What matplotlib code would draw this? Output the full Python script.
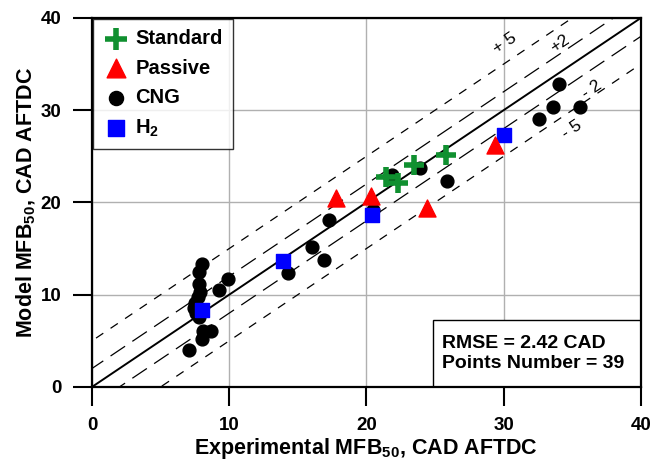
import numpy as np
import matplotlib
matplotlib.use('Agg')
import matplotlib.pyplot as plt
from matplotlib.patches import Rectangle

plt.rcParams['font.family'] = ['Liberation Sans', 'DejaVu Sans']
plt.rcParams['font.weight'] = 'bold'
plt.rcParams['axes.labelweight'] = 'bold'
plt.rcParams['mathtext.fontset'] = 'custom'
plt.rcParams['mathtext.rm'] = 'Liberation Sans'
plt.rcParams['mathtext.bf'] = 'Liberation Sans:bold'
plt.rcParams['mathtext.default'] = 'bf'

# ---- data (experimental, model) ----
std_x = [21.4, 22.3, 23.5, 25.8]
std_y = [22.8, 22.1, 24.1, 25.15]

pas_x = [17.8, 20.3, 24.4, 29.4]
pas_y = [20.45, 20.7, 19.4, 26.2]

h2_x = [8.0, 13.9, 20.4, 30.0]
h2_y = [8.35, 13.7, 18.65, 27.3]

cng_x = [8.0, 7.8, 7.8, 7.9, 9.9, 9.25, 7.5, 7.4, 7.7, 7.6, 7.8, 8.1, 8.7, 8.0, 7.1,
         14.3, 16.0, 16.9, 17.27, 20.5, 21.9, 23.9, 25.9,
         34.05, 33.6, 35.55, 32.57]
cng_y = [13.3, 12.5, 11.2, 10.3, 11.7, 10.5, 9.1, 8.6, 9.8, 8.0, 7.6, 6.1, 6.1, 5.2, 4.0,
         12.3, 15.2, 13.8, 18.1, 19.2, 23.0, 23.7, 22.3,
         32.85, 30.4, 30.4, 29.05]

rmse = 2.42
n_points = len(std_x) + len(pas_x) + len(h2_x) + len(cng_x)

fig = plt.figure(figsize=(6.62, 4.73), dpi=100)
ax = fig.add_axes([0.139, 0.182, 0.829, 0.780])

ax.grid(True, color='#b0b0b0', lw=1.0, zorder=0)

xx = np.array([-5, 45])
ax.plot(xx, xx, '-', color='black', lw=1.4, zorder=2)
for off in (2, -2):
    ax.plot(xx, xx + off, color='black', lw=0.9, dashes=(14, 7), zorder=2)
for off in (5, -5):
    ax.plot(xx, xx + off, color='black', lw=0.9, dashes=(7, 7), zorder=2)

ax.scatter(cng_x, cng_y, s=85, marker='o', color='black', zorder=3, label='CNG')
ax.scatter(h2_x, h2_y, s=110, marker='s', color='#0000ff', zorder=4, label='H$_2$')
ax.scatter(pas_x, pas_y, s=150, marker='^', color='#ff0000', zorder=4, label='Passive')
ax.scatter(std_x, std_y, s=200, marker='+', color='#109030', linewidths=4, zorder=5,
           label='Standard')

for txt, (tx, ty) in [('+ 5', (30.1, 37.2)), ('+2', (34.1, 37.2)),
                      ('- 2', (36.4, 32.2)), ('- 5', (35.0, 27.9))]:
    ax.text(tx, ty, txt, rotation=34, ha='center', va='center', fontsize=12.5,
            fontweight='normal', zorder=6)

h, l = ax.get_legend_handles_labels()
order = [3, 2, 0, 1]
leg = ax.legend([h[i] for i in order], [l[i] for i in order], loc='upper left',
                fontsize=14.5, frameon=True, fancybox=False, borderaxespad=0.05,
                handletextpad=0.3, labelspacing=0.52, borderpad=0.5,
                handlelength=1.3, scatterpoints=1, markerscale=1.1)
leg.get_frame().set_edgecolor('black')
leg.get_frame().set_linewidth(1.0)

# stats box sits on the lower-right corner of the axes
ax.add_patch(Rectangle((0.621, 0.0), 0.379, 0.182, transform=ax.transAxes,
                       fc='white', ec='black', lw=1.0, zorder=7))
ax.text(0.637, 0.091, f'RMSE = {rmse:.2f} CAD\nPoints Number = {n_points}',
        transform=ax.transAxes, ha='left', va='center', fontsize=14,
        linespacing=1.2, zorder=8)

ax.set_xlim(0, 40)
ax.set_ylim(0, 40)
ax.set_xticks([0, 10, 20, 30, 40])
ax.set_yticks([0, 10, 20, 30, 40])
ax.tick_params(direction='out', length=14, width=1.5, labelsize=13.5, pad=8)
for sp in ax.spines.values():
    sp.set_linewidth(1.6)
    sp.set_zorder(9)

ax.set_xlabel('Experimental MFB$_{50}$, CAD AFTDC', fontsize=15.5, labelpad=1)
ax.set_ylabel('Model MFB$_{50}$, CAD AFTDC', fontsize=15.5, labelpad=2)

fig.savefig('out.png', dpi=100)
